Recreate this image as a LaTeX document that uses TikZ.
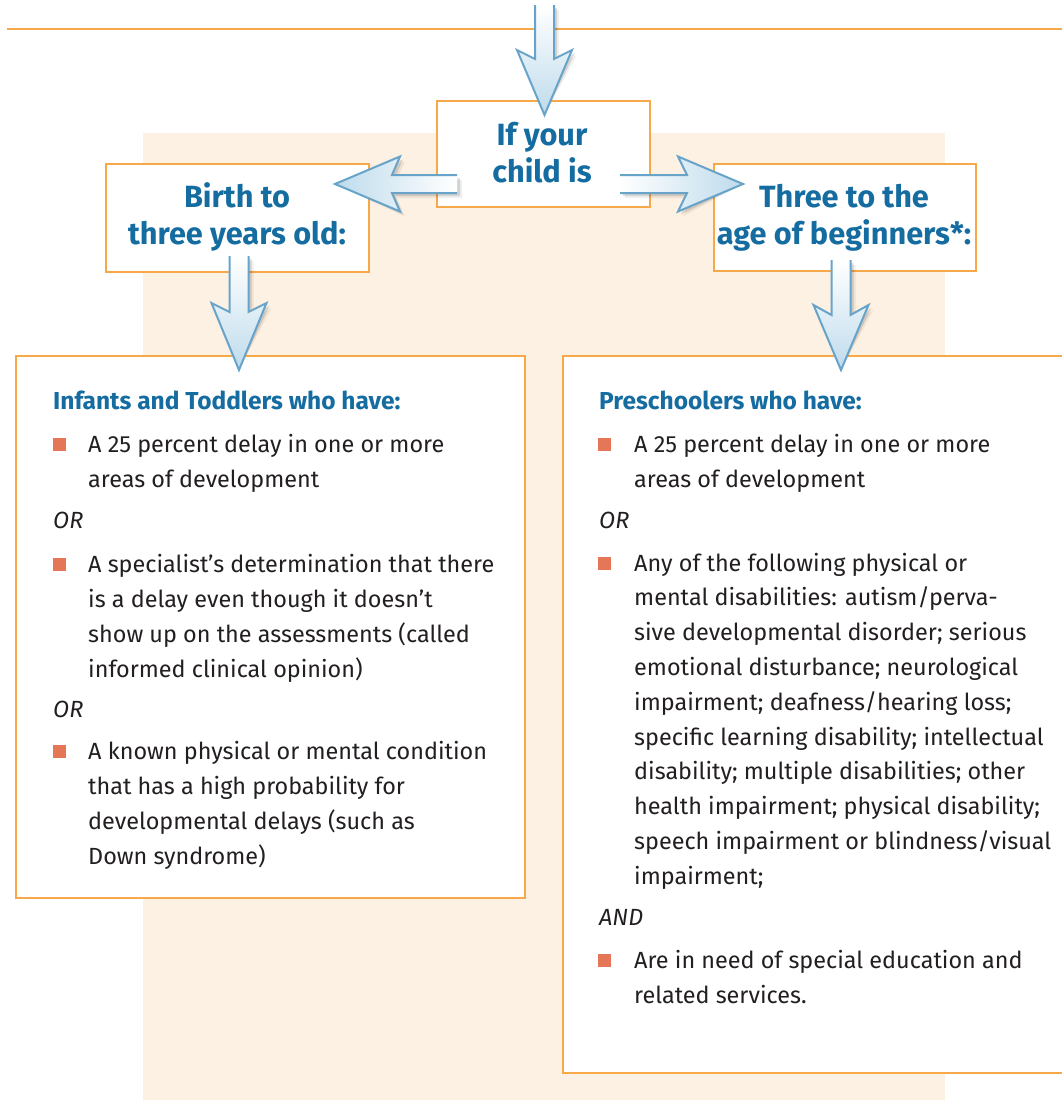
\documentclass[tikz,border=0pt]{standalone}
\usepackage{fontspec}
\setmainfont{Fira Sans}
\definecolor{txtblue}{RGB}{20,108,160}
\definecolor{orangeline}{RGB}{247,168,72}
\definecolor{beige}{RGB}{253,241,227}
\definecolor{bulletc}{RGB}{230,118,88}
\definecolor{arrowedge}{RGB}{104,164,202}
\definecolor{arrowfill}{RGB}{190,219,236}
\definecolor{bodytext}{RGB}{35,31,32}
\begin{document}
\begin{tikzpicture}[x=1pt,y=-1pt,
  frame/.style={draw=orangeline, line width=1.5pt, fill=white},
  body/.style={anchor=base west, inner sep=0pt, text=bodytext, font=\fontsize{23.4}{35}\selectfont},
  head/.style={anchor=base west, inner sep=0pt, text=txtblue, font=\fontsize{24.5}{35}\selectfont\bfseries},
  orword/.style={anchor=base west, inner sep=0pt, text=bodytext, font=\fontsize{23.4}{35}\selectfont\itshape},
  ttl/.style={anchor=base, inner sep=0pt, text=txtblue, font=\fontsize{30.7}{37}\selectfont\bfseries},
  bul/.style={fill=bulletc, inner sep=0pt, minimum size=13pt},
  ashadow/.style={fill=black, opacity=0.12},
  ashadow2/.style={fill=black, opacity=0.06},
  aedge/.style={draw=arrowedge, line width=2pt, line join=miter}
]
\useasboundingbox (0,0) rectangle (1062,1100);
\clip (0,0) rectangle (1062,1100);
% background
\fill[beige] (143,133) rectangle (945,1100);
\draw[orangeline, line width=2pt] (7,29) -- (1062,29);
% boxes
\node[frame, minimum width=213pt, minimum height=106pt, anchor=north west] (q) at (436,100) {};
\node[frame, minimum width=263pt, minimum height=108pt, anchor=north west] (bt) at (105,163) {};
\node[frame, minimum width=262pt, minimum height=107pt, anchor=north west] (tt) at (713,163) {};
\node[frame, minimum width=509pt, minimum height=542pt, anchor=north west] (lb) at (15,355) {};
\node[frame, minimum width=520pt, minimum height=717pt, anchor=north west] (rb) at (562,355) {};
% arrows
\coordinate (a0s) at (544.5,5);   \coordinate (a0t) at (544.5,115);
\coordinate (a1s) at (457,184);   \coordinate (a1t) at (335,184);
\coordinate (a2s) at (620,184);   \coordinate (a2t) at (743,184);
\coordinate (a3s) at (239,256);   \coordinate (a3t) at (239,370);
\coordinate (a4s) at (841,260);   \coordinate (a4t) at (841,370);
% top arrow
\fill[ashadow2,shift={(5,5)}] (535,5)--(554,5)--(554,59)--(572,50)--(a0t)--(517,50)--(535,59)--cycle;
\fill[ashadow,shift={(3,3)}] (535,5)--(554,5)--(554,59)--(572,50)--(a0t)--(517,50)--(535,59)--cycle;
\shade[top color=white, middle color=white!92!arrowfill, bottom color=arrowfill] (535,5)--(554,5)--(554,59)--(572,50)--(a0t)--(517,50)--(535,59)--cycle;
\draw[aedge] (535,5)--(535,59)--(517,50)--(a0t)--(572,50)--(554,59)--(554,5);
% left arrow
\fill[ashadow2,shift={(5,5)}] (457,175)--(392,175)--(400,156.5)--(a1t)--(400,211.5)--(392,193)--(457,193)--cycle;
\fill[ashadow,shift={(3,3)}] (457,175)--(392,175)--(400,156.5)--(a1t)--(400,211.5)--(392,193)--(457,193)--cycle;
\shade[left color=arrowfill, middle color=white!92!arrowfill, right color=white] (457,175)--(392,175)--(400,156.5)--(a1t)--(400,211.5)--(392,193)--(457,193)--cycle;
\draw[aedge] (457,175)--(392,175)--(400,156.5)--(a1t)--(400,211.5)--(392,193)--(457,193);
% right arrow
\fill[ashadow2,shift={(5,5)}] (620,175)--(687,175)--(678,156.5)--(a2t)--(678,211.5)--(687,193)--(620,193)--cycle;
\fill[ashadow,shift={(3,3)}] (620,175)--(687,175)--(678,156.5)--(a2t)--(678,211.5)--(687,193)--(620,193)--cycle;
\shade[left color=white, middle color=white!92!arrowfill, right color=arrowfill] (620,175)--(687,175)--(678,156.5)--(a2t)--(678,211.5)--(687,193)--(620,193)--cycle;
\draw[aedge] (620,175)--(687,175)--(678,156.5)--(a2t)--(678,211.5)--(687,193)--(620,193);
% left down arrow
\fill[ashadow2,shift={(5,5)}] (229.5,256)--(248.5,256)--(248.5,312)--(266.5,303)--(a3t)--(211.5,303)--(229.5,312)--cycle;
\fill[ashadow,shift={(3,3)}] (229.5,256)--(248.5,256)--(248.5,312)--(266.5,303)--(a3t)--(211.5,303)--(229.5,312)--cycle;
\shade[top color=white, middle color=white!92!arrowfill, bottom color=arrowfill] (229.5,256)--(248.5,256)--(248.5,312)--(266.5,303)--(a3t)--(211.5,303)--(229.5,312)--cycle;
\draw[aedge] (229.5,256)--(229.5,312)--(211.5,303)--(a3t)--(266.5,303)--(248.5,312)--(248.5,256);
% right down arrow
\fill[ashadow2,shift={(5,5)}] (831.5,260)--(850.5,260)--(850.5,315)--(868.5,305)--(a4t)--(813.5,305)--(831.5,315)--cycle;
\fill[ashadow,shift={(3,3)}] (831.5,260)--(850.5,260)--(850.5,315)--(868.5,305)--(a4t)--(813.5,305)--(831.5,315)--cycle;
\shade[top color=white, middle color=white!92!arrowfill, bottom color=arrowfill] (831.5,260)--(850.5,260)--(850.5,315)--(868.5,305)--(a4t)--(813.5,305)--(831.5,315)--cycle;
\draw[aedge] (831.5,260)--(831.5,315)--(813.5,305)--(a4t)--(868.5,305)--(850.5,315)--(850.5,260);
% titles
\node[ttl] (q1) at (542,145) {If your};
\node[ttl] (q2) at (542,182) {child is};
\node[ttl] (bt1) at (237,207) {Birth to};
\node[ttl] (bt2) at (237,244) {three years old:};
\node[ttl] (tt1) at (844,207) {Three to the};
\node[ttl] (tt2) at (844,244) {age of beginners*:};
% left content
\node[head] (L0) at (53,409) {Infants and Toddlers who have:};
\node[bul] (Lb1) at (59.5,444.5) {};
\node[body] (L1) at (88,452) {A 25 percent delay in one or more};
\node[body] (L2) at (88,487) {areas of development};
\node[orword] (Lor1) at (53,528) {OR};
\node[bul] (Lb2) at (59.5,564.5) {};
\node[body] (L3) at (88,572) {A specialist’s determination that there};
\node[body] (L4) at (88,607) {is a delay even though it doesn’t};
\node[body] (L5) at (88,642) {show up on the assessments (called};
\node[body] (L6) at (88,677) {informed clinical opinion)};
\node[orword] (Lor2) at (53,717) {OR};
\node[bul] (Lb3) at (59.5,751.5) {};
\node[body] (L7) at (88,759) {A known physical or mental condition};
\node[body] (L8) at (88,794) {that has a high probability for};
\node[body] (L9) at (88,829) {developmental delays (such as};
\node[body] (L10) at (88,864) {Down syndrome)};
% right content
\node[head] (R0) at (599,409) {Preschoolers who have:};
\node[bul] (Rb1) at (604.5,444.5) {};
\node[body] (R1) at (634,452) {A 25 percent delay in one or more};
\node[body] (R2) at (634,487) {areas of development};
\node[orword] (Ror1) at (599,528) {OR};
\node[bul] (Rb2) at (604.5,563.5) {};
\node[body] (R3) at (634,571) {Any of the following physical or};
\node[body] (R4) at (634,605.8) {mental disabilities: autism/perva-};
\node[body] (R5) at (634,640.6) {sive developmental disorder; serious};
\node[body] (R6) at (634,675.4) {emotional disturbance; neurological};
\node[body] (R7) at (634,710.2) {impairment; deafness/hearing loss;};
\node[body] (R8) at (634,745) {specific learning disability; intellectual};
\node[body] (R9) at (634,779.8) {disability; multiple disabilities; other};
\node[body] (R10) at (634,814.6) {health impairment; physical disability;};
\node[body] (R11) at (634,849.4) {speech impairment or blindness/visual};
\node[body] (R12) at (634,884.2) {impairment;};
\node[orword] (Rand) at (599,925) {AND};
\node[bul] (Rb3) at (604.5,960.5) {};
\node[body] (R13) at (634,968) {Are in need of special education and};
\node[body] (R14) at (634,1003) {related services.};
\end{tikzpicture}
\end{document}
